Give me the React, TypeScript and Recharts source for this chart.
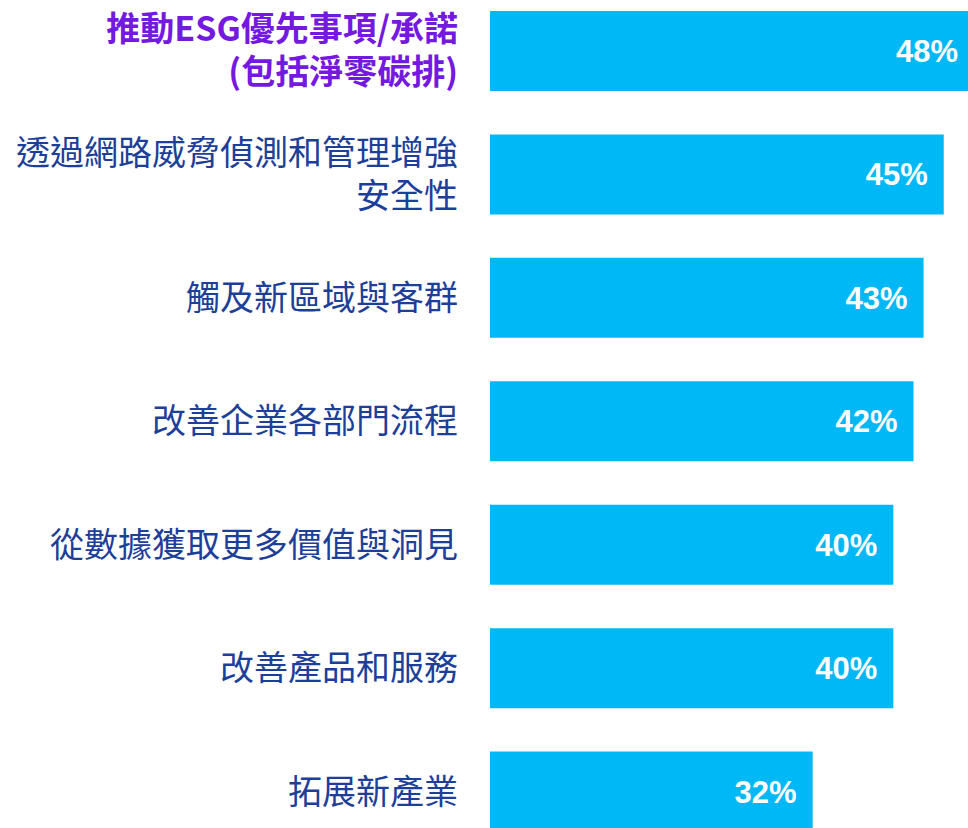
import React from "react";
import { BarChart, Bar, XAxis, YAxis, LabelList } from "recharts";

const categories = [
  "推動ESG優先事項/承諾\n(包括淨零碳排)",
  "透過網路威脅偵測和管理增強\n安全性",
  "觸及新區域與客群",
  "改善企業各部門流程",
  "從數據獲取更多價值與洞見",
  "改善產品和服務",
  "拓展新產業",
];
const values = [48, 45, 43, 42, 40, 40, 32];
const highlighted = [true, false, false, false, false, false, false];

const data = categories.map((c, i) => ({ name: c, value: values[i], hl: highlighted[i] }));

const CJK = '"Noto Sans CJK TC", "Noto Sans CJK SC", sans-serif';

const Tick = (props: any) => {
  const { x, y, payload, index } = props;
  const lines: string[] = String(payload.value).split("\n");
  const hl = highlighted[index];
  const lh = 43;
  const start = -((lines.length - 1) * lh) / 2;
  const tx = x - 26;
  return (
    <g>
      {lines.map((l, i) => (
        <text
          key={i}
          x={tx}
          y={y + start + i * lh}
          dy="0.36em"
          textAnchor="end"
          fontFamily={CJK}
          fontSize={34}
          fontWeight={hl ? 700 : 400}
          fill={hl ? "#7419E0" : "#1D3F99"}
        >
          {l}
        </text>
      ))}
    </g>
  );
};

export default function App() {
  return (
    <div
      style={{
        position: "fixed",
        left: 0,
        top: 0,
        width: 968,
        height: 828,
        overflow: "hidden",
        background: "#fff",
      }}
    >
      <div style={{ position: "absolute", left: 0, top: -11 }}>
        <BarChart
          width={974}
          height={864}
          data={data}
          layout="vertical"
          margin={{ top: 0, right: 0, bottom: 0, left: 0 }}
        >
          <XAxis type="number" domain={[0, 48]} hide />
          <YAxis
            type="category"
            dataKey="name"
            width={490}
            axisLine={false}
            tickLine={false}
            tick={<Tick />}
            interval={0}
            tickMargin={0}
          />
          <Bar dataKey="value" fill="#00B8F5" barSize={80} isAnimationActive={false}>
            <LabelList
              dataKey="value"
              position="insideRight"
              offset={16}
              formatter={(v: any) => `${v}%`}
              fill="#FFFFFF"
              fontFamily='"Liberation Sans", Arial, sans-serif'
              fontWeight={700}
              fontSize={31}
            />
          </Bar>
        </BarChart>
      </div>
    </div>
  );
}
